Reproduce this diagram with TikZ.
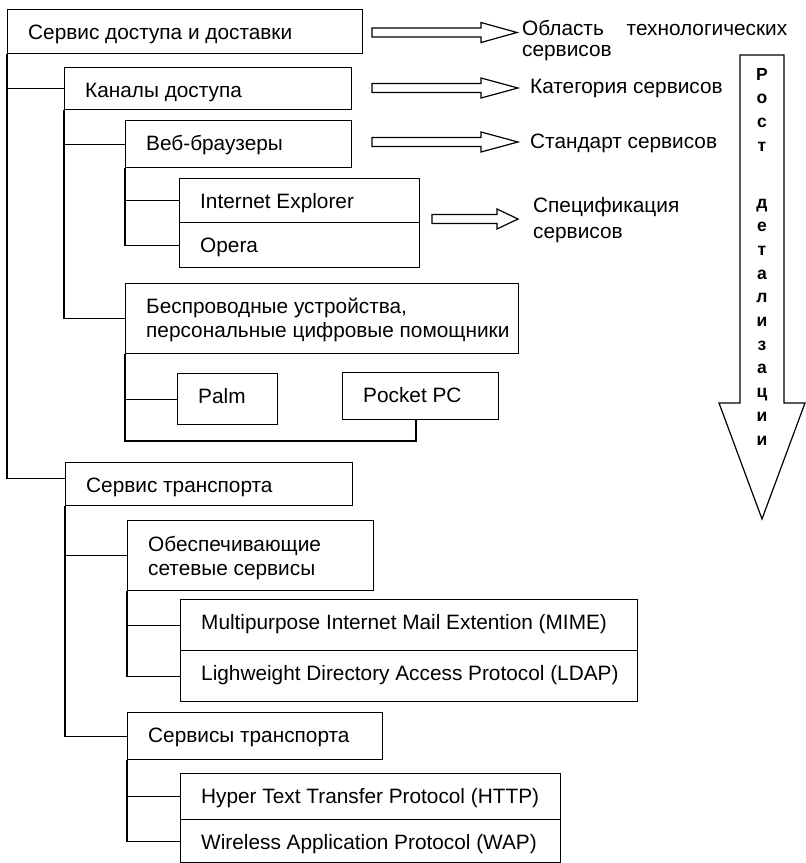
\documentclass[tikz,border=0pt]{standalone}
\usepackage{fontspec}
\setmainfont{Liberation Sans}
\usetikzlibrary{calc}
% #1 = offset of the text's last baseline below the box top
\newcommand\mybox[7][30]{%
  \node[bx, minimum width=#5pt, minimum height=#6pt] (#2) at (#3,#4) {};
  \node[txt] (#2t) at ($(#2.north west)+(21,#1)$) {#7};}
\newcommand\blockarr[4]{%
  \draw[ln] (#1,#2-4.5) -- (#3,#2-4.5) -- (#3,#2-10) -- (#4,#2) -- (#3,#2+10) -- (#3,#2+4.5) -- (#1,#2+4.5) -- cycle;}
\begin{document}
\begin{tikzpicture}[x=1pt,y=-1pt,
  bx/.style={draw, line width=1.2pt, anchor=north west, inner sep=0pt},
  txt/.style={anchor=base west, inner sep=0pt, align=left, font=\fontsize{20.8}{24}\selectfont},
  lbl/.style={anchor=base west, inner sep=0pt, align=left, font=\fontsize{20.8}{24}\selectfont},
  ln/.style={line width=1.2pt, line join=miter},
]
\useasboundingbox (0,0) rectangle (806,863);

% boxes
\mybox{B1}{7}{9}{355}{44}{Сервис доступа и доставки}
\mybox{B2}{64}{67}{287}{42}{Каналы доступа}
\mybox{B3}{125}{120}{226}{47}{Веб-браузеры}
\mybox{B4}{179}{178}{240}{44}{Internet Explorer}
\mybox{B5}{179}{222}{240}{45}{Opera}
\mybox[54]{B6}{125}{283}{393}{70}{Беспроводные устройства,\\персональные цифровые помощники}
\mybox{B7}{177}{373}{100}{51}{Palm}
\mybox{B8}{342}{372}{156}{47}{Pocket PC}
\mybox{B9}{65}{462}{287}{43}{Сервис транспорта}
\mybox[55]{B10}{127}{520}{246}{70}{Обеспечивающие\\сетевые сервисы}
\mybox{B11}{180}{599}{457}{51}{Multipurpose Internet Mail Extention (MIME)}
\mybox{B12}{180}{650}{457}{51}{Lighweight Directory Access Protocol (LDAP)}
\mybox{B13}{127}{712}{255}{47}{Сервисы транспорта}
\mybox{B14}{180}{773}{380}{46}{Hyper Text Transfer Protocol (HTTP)}
\mybox{B15}{180}{819}{380}{43}{Wireless Application Protocol (WAP)}

% tree connectors
\draw[ln] (B1.south west) |- ([yshift=5.5pt]B9.west);
\draw[ln] (B2.west) -- (B1.south west |- B2.west);
\draw[ln] (B2.south west) |- (B6.west);
\draw[ln] (B3.west) -- (B2.south west |- B3.west);
\draw[ln] (B3.south west) |- (B5.west);
\draw[ln] (B4.west) -- (B3.south west |- B4.west);
\coordinate (c1) at (416,441);
\draw[ln] (B6.south west) |- (c1) -- (c1 |- B8.south);
\draw[ln] (B7.west) -- (B6.south west |- B7.west);
\draw[ln] (B9.south west) |- (B13.west);
\draw[ln] (B10.west) -- (B9.south west |- B10.west);
\draw[ln] (B10.south west) |- (B12.west);
\draw[ln] (B11.west) -- (B10.south west |- B11.west);
\draw[ln] (B13.south west) |- (B15.west);
\draw[ln] (B14.west) -- (B13.south west |- B14.west);

% block arrows to labels
\blockarr{372}{32.5}{481}{517}
\blockarr{372}{88}{481}{518}
\blockarr{372}{142}{481}{518}
\blockarr{432}{219}{497}{518}

% labels
\node[lbl, text width=265pt, font=\fontsize{20.8}{21}\selectfont] (L1) at (522,35) {Область\hfill технологических\\сервисов};
\node[lbl] (L2) at (530,93) {Категория сервисов};
\node[lbl] (L3) at (530,148) {Стандарт сервисов};
\node[lbl, font=\fontsize{20.8}{26}\selectfont] (L4) at (533,238) {Спецификация\\сервисов};

% vertical arrow
\draw[ln] (740,55) -- (784,55) -- (784,403) -- (805,403) -- (762,519) -- (719,403) -- (740,403) -- cycle;
\node[anchor=base, inner sep=0pt, align=center, font=\fontsize{17.5}{23.7}\bfseries\selectfont] (V) at (762,445)
  {Р\\о\\с\\т\\[33.2pt]д\\е\\т\\а\\л\\и\\з\\а\\ц\\и\\и};
\end{tikzpicture}
\end{document}
